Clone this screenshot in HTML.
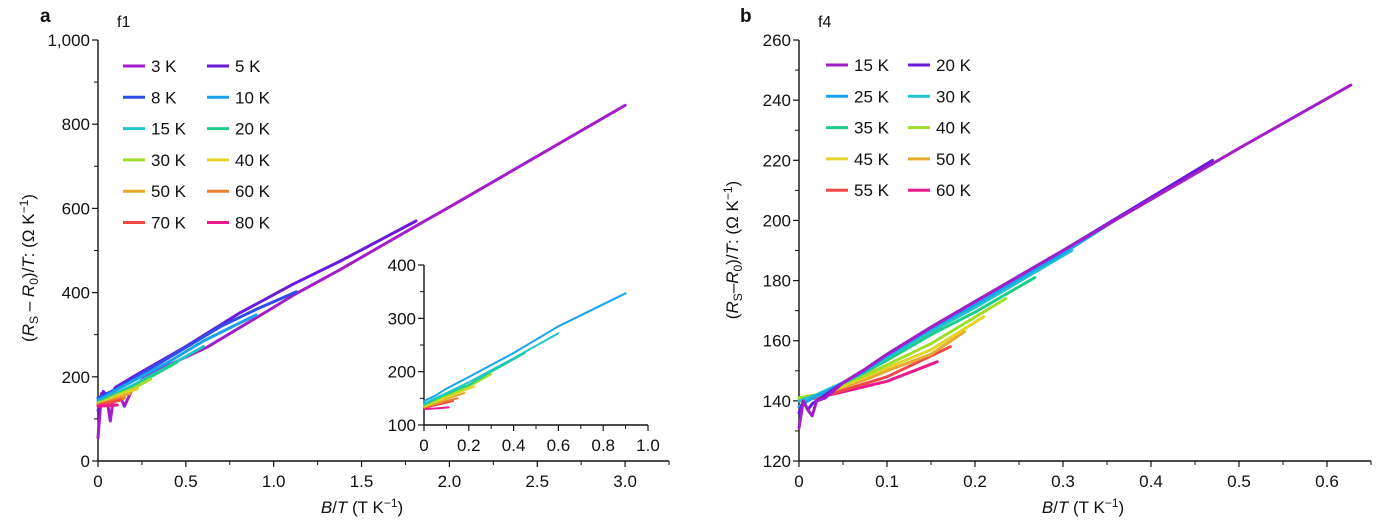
<!DOCTYPE html>
<html><head><meta charset="utf-8">
<style>
html,body{margin:0;padding:0;background:#fff;}
svg{display:block;font-family:"Liberation Sans",Arial,sans-serif;}
</style></head>
<body>
<svg id="chart" width="1392" height="524" viewBox="0 0 1392 524" xmlns="http://www.w3.org/2000/svg"></svg>
<script>
// ---------- Panel a data ----------
const aLabels = ["3 K","5 K","8 K","10 K","15 K","20 K","30 K","40 K","50 K","60 K","70 K","80 K"];
const aColors = ["#a31ec9","#6a1bd9","#2d4fe8","#1aa2ef","#22c5c8","#1fcd88","#9ede2a","#e2d62a","#e8a92c","#ee7f2c","#f24848","#ec1a8a"];
const aX = [
 [0,0.02,0.05,0.07,0.09,0.12,0.15,0.2,0.3,0.45,0.62,0.96,1.13,1.38,1.8,2.0,2.5,3.0],
 [0,0.03,0.06,0.1,0.2,0.5,0.8,1.11,1.38,1.81],
 [0,0.05,0.1,0.2,0.4,0.7,0.9,1.13],
 [0,0.05,0.1,0.2,0.4,0.6,0.9],
 [0,0.05,0.1,0.2,0.4,0.6],
 [0,0.05,0.1,0.2,0.3,0.45],
 [0,0.05,0.1,0.2,0.3],
 [0,0.05,0.1,0.15,0.225],
 [0,0.05,0.1,0.18],
 [0,0.05,0.1,0.15],
 [0,0.05,0.13],
 [0,0.05,0.11]
];
const aY = [
 [55,160,150,95,155,160,130,175,210,237,270,355,398,455,556,603,724,845],
 [120,165,150,175,200,272,350,420,475,570],
 [150,160,170,195,245,320,360,402],
 [145,155,168,190,235,285,347],
 [140,150,160,180,225,272],
 [138,148,158,175,200,235],
 [137,145,155,172,195],
 [135,143,152,160,172],
 [134,141,149,160],
 [133,139,145,150],
 [132,137,145],
 [130,131,133]
];
const aTicksY = [0,200,400,600,800,1000];
const aTickLabelsY = ["0","200","400","600","800","1,000"];
const aTicksX = [0,0.5,1.0,1.5,2.0,2.5,3.0];
const aTickLabelsX = ["0","0.5","1.0","1.5","2.0","2.5","3.0"];
const insetSeries = [3,4,5,6,7,8,9,10,11];
const insetTicksY = [100,200,300,400];
const insetTicksX = [0,0.2,0.4,0.6,0.8,1.0];
const insetTickLabelsX = ["0","0.2","0.4","0.6","0.8","1.0"];

// ---------- Panel b data ----------
const bLabels = ["15 K","20 K","25 K","30 K","35 K","40 K","45 K","50 K","55 K","60 K"];
const bColors = ["#a31ec9","#6a1bd9","#1aa2ef","#22c5c8","#1fcd88","#9ede2a","#e2d62a","#e8a92c","#f24848","#ec1a8a"];
const bX = [
 [0,0.005,0.01,0.015,0.02,0.03,0.05,0.075,0.1,0.15,0.2,0.3,0.4,0.5,0.627],
 [0,0.005,0.01,0.015,0.02,0.03,0.05,0.075,0.1,0.15,0.2,0.3,0.47],
 [0,0.01,0.02,0.05,0.075,0.1,0.15,0.2,0.3,0.375],
 [0,0.01,0.02,0.05,0.075,0.1,0.15,0.2,0.31],
 [0,0.01,0.02,0.05,0.075,0.1,0.15,0.2,0.268],
 [0,0.02,0.05,0.075,0.1,0.15,0.235],
 [0,0.02,0.05,0.075,0.1,0.15,0.21],
 [0,0.02,0.05,0.075,0.1,0.15,0.188],
 [0,0.02,0.05,0.1,0.172],
 [0,0.02,0.05,0.1,0.157]
];
const bY = [
 [131,140,137,135,140,141,146,150.5,155.5,164.5,173,190,207,224,245],
 [136,140,137,139,140,142,146,150.5,155.5,164.5,173,190,220],
 [138,140,141.5,146,150,155,164,172,189,203],
 [140,141,142,146,150,154.5,163,171,190],
 [140,141,142,146,149.5,153.5,162,169.5,181],
 [141,142,145.5,148.5,152,159,174],
 [141,142,145,148,151,157,168],
 [140,141.5,144.5,147,150,155.5,163],
 [140,141,143.5,148,158],
 [140,141,143,146.5,153]
];
const bTicksY = [120,140,160,180,200,220,240,260];
const bTicksX = [0,0.1,0.2,0.3,0.4,0.5,0.6];
const bTickLabelsX = ["0","0.1","0.2","0.3","0.4","0.5","0.6"];

const NS = "http://www.w3.org/2000/svg";
const svg = document.getElementById("chart");
function el(tag, attrs, parent){
  const e = document.createElementNS(NS, tag);
  for (const k in attrs) e.setAttribute(k, attrs[k]);
  (parent||svg).appendChild(e);
  return e;
}
function txt(s, x, y, anchor, size, parent){
  const t = el("text", {x:x, y:y, "text-anchor":anchor||"middle", "font-size":size||15, fill:"#111"}, parent);
  t.textContent = s;
  return t;
}
const ax = v => 98 + v*175.7;
const ay = v => 461 - v*0.421;
const ix = v => 424 + v*224;
const iy = v => 425 - (v-100)*0.5333;
const bx = v => 799 + v*880;
const by = v => 461 - (v-120)*3.007;

function axes(name, x0, x1, y0, y1, xt, xl, xs, yt, yl, ys, xMinor, yMinor){
  const g = el("g", {});
  
  
  el("line", {x1:x0, y1:y0, x2:x0, y2:y1, stroke:"#111", "stroke-width":1.4}, g);
  el("line", {x1:x0, y1:y0, x2:x1, y2:y0, stroke:"#111", "stroke-width":1.4}, g);
  xt.forEach((v,i)=>{
    const X = xs(v);
    el("line",{x1:X,y1:y0,x2:X,y2:y0+6,stroke:"#111","stroke-width":1.2},g);
    txt(xl[i], X, y0+26, "middle", 17, g);
  });
  xMinor.forEach(v=>{const X=xs(v); el("line",{x1:X,y1:y0,x2:X,y2:y0+4,stroke:"#111","stroke-width":1},g);});
  yt.forEach((v,i)=>{
    const Y = ys(v);
    el("line",{x1:x0,y1:Y,x2:x0-6,y2:Y,stroke:"#111","stroke-width":1.2},g);
    txt(yl[i], x0-8, Y+6, "end", 17, g);
  });
  yMinor.forEach(v=>{const Y=ys(v); el("line",{x1:x0,y1:Y,x2:x0-4,y2:Y,stroke:"#111","stroke-width":1},g);});
}
function drawSeries(name, xs, ys, X, Y, color, w){
  const d = xs.map((v,i)=>(i?"L":"M")+X(v).toFixed(1)+","+Y(ys[i]).toFixed(1)).join(" ");
  const p = el("path",{d:d, fill:"none", stroke:color, "stroke-width":w, "stroke-linejoin":"round","stroke-linecap":"round"});
  
  
}

axes("panel-a-axes", 98, 669, 461, 40, aTicksX, aTickLabelsX, ax, aTicksY, aTickLabelsY, ay,
  [0.25,0.75,1.25,1.75,2.25,2.75,3.25], [100,300,500,700,900]);
for (let i=0;i<aX.length;i++) drawSeries("line-a-"+aLabels[i].replace(" ","").toLowerCase(), aX[i], aY[i], ax, ay, aColors[i], 3);
axes("inset-axes", 424, 648, 425, 265, insetTicksX, insetTickLabelsX, ix, insetTicksY, insetTicksY.map(String), iy,
  [0.1,0.3,0.5,0.7,0.9], [150,250,350]);
insetSeries.slice().reverse().forEach(i=>{
  const xs=[],ys=[];
  aX[i].forEach((v,k)=>{ if(v<=1.0){xs.push(v);ys.push(Math.max(aY[i][k],125));} });
  drawSeries("inset-line-"+aLabels[i].replace(" ","").toLowerCase(), xs, ys, ix, iy, aColors[i], 2);
});

axes("panel-b-axes", 799, 1371, 461, 40, bTicksX, bTickLabelsX, bx, bTicksY, bTicksY.map(String), by,
  [0.05,0.15,0.25,0.35,0.45,0.55,0.65], [130,150,170,190,210,230,250]);
for (let i=bX.length-1;i>=0;i--) drawSeries("line-b-"+bLabels[i].replace(" ","").toLowerCase(), bX[i], bY[i], bx, by, bColors[i], 3);

function legend(name, labels, colors, lx1, lx2, rowY0, dy){
  const g = el("g",{});
  
  
  labels.forEach((s,i)=>{
    const col=i%2,row=Math.floor(i/2);
    const x = col? lx2 : lx1, y = rowY0 + row*dy;
    const e = el("g",{},g);
    
    
    el("line",{x1:x,y1:y,x2:x+22,y2:y,stroke:colors[i],"stroke-width":3},e);
    txt(s, x+28, y+6, "start", 17, e);
  });
}
legend("legend-a", aLabels, aColors, 123, 207, 66, 31.3);
legend("legend-b", bLabels, bColors, 826, 908, 65, 31.3);

let t;
t = el("text",{x:40,y:22,"font-size":19,"font-weight":"bold",fill:"#111"}); t.textContent="a";

t = el("text",{x:740,y:22,"font-size":19,"font-weight":"bold",fill:"#111"}); t.textContent="b";

t = el("text",{x:117,y:27,"font-size":16,fill:"#111"}); t.textContent="f1";

t = el("text",{x:818,y:27,"font-size":16,fill:"#111"}); t.textContent="f4";


function xlabel(name, cx){
  const g = el("text",{x:cx,y:513,"text-anchor":"middle","font-size":17,fill:"#111"});
  
  
  g.innerHTML = '<tspan font-style="italic">B</tspan>/<tspan font-style="italic">T</tspan> (T K<tspan dy="-6" font-size="12">−1</tspan><tspan dy="6">)</tspan>';
}
xlabel("x-axis-title-a", 362);
xlabel("x-axis-title-b", 1083);
function ylabel(name, x, cy, sep){
  const g = el("text",{x:0,y:0,"text-anchor":"middle","font-size":17,fill:"#111",transform:"translate("+x+","+cy+") rotate(-90)"});
  
  
  g.innerHTML = '(<tspan font-style="italic">R</tspan><tspan dy="4" font-size="12">S</tspan><tspan dy="-4">'+sep+'</tspan><tspan font-style="italic">R</tspan><tspan dy="4" font-size="12">0</tspan><tspan dy="-4">)/</tspan><tspan font-style="italic">T</tspan>: (Ω K<tspan dy="-6" font-size="12">−1</tspan><tspan dy="6">)</tspan>';
}
ylabel("y-axis-title-a", 34, 268, " – ");
ylabel("y-axis-title-b", 738, 250, "–");
</script>
</body></html>
